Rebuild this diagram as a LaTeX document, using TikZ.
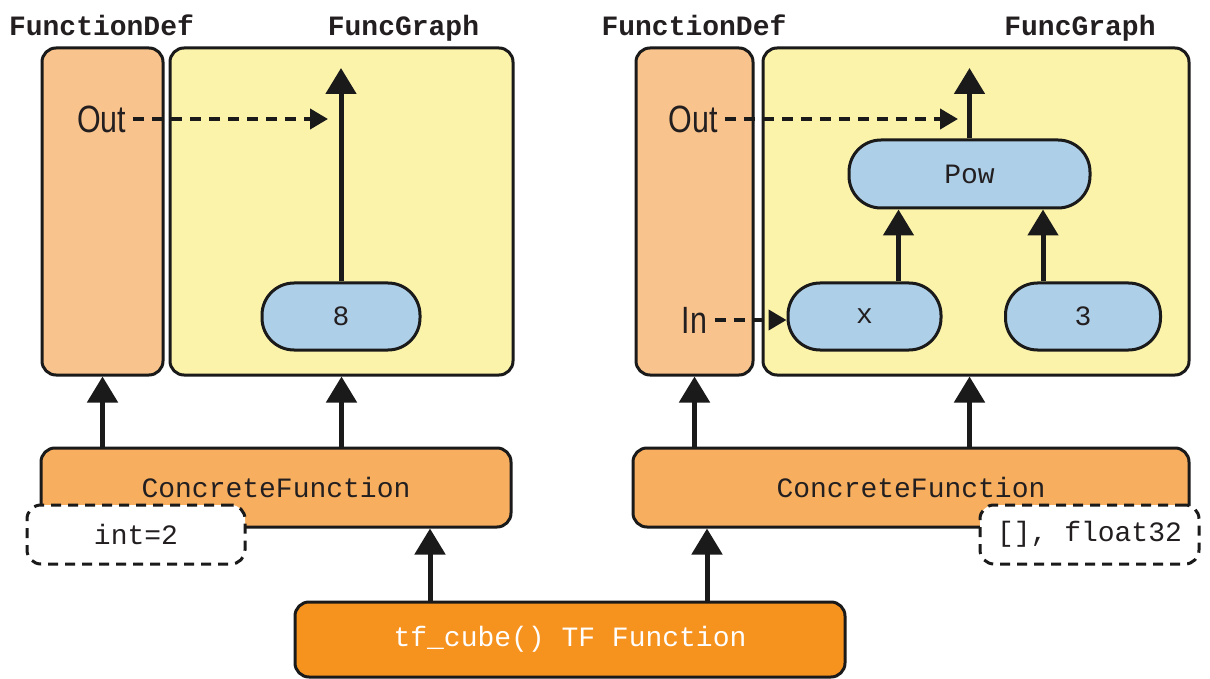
\documentclass[tikz,border=0pt]{standalone}
\usepackage{fontspec}
\usepackage{graphicx}
\setmainfont{Liberation Sans}
\setmonofont{Liberation Mono}
\usetikzlibrary{arrows.meta}
\definecolor{defC}{HTML}{F8C38C}
\definecolor{graphC}{HTML}{FCF3AB}
\definecolor{blueC}{HTML}{AECFE8}
\definecolor{cfC}{HTML}{F7AF5F}
\definecolor{tfC}{HTML}{F6921E}
\definecolor{lineC}{HTML}{1A1A1A}
\definecolor{txtC}{HTML}{231F20}
\newcommand\monofs{\ttfamily\fontsize{14}{16}\selectfont}
\newcommand\condtxt[1]{\scalebox{0.8}[1]{\fontsize{19}{20}\selectfont #1}}
\begin{document}
\begin{tikzpicture}[x=0.5pt,y=-0.5pt,
  box/.style={draw=lineC, line width=1.5pt, rounded corners=7pt, inner sep=0pt},
  pill/.style={box, fill=blueC, rounded corners=16pt, minimum height=33.5pt, font=\monofs, text=txtC},
  arr/.style={draw=lineC, line width=2.5pt, -{Triangle[length=13pt,width=15pt]}},
  darr/.style={draw=lineC, line width=2pt, dash pattern=on 5.5pt off 4pt, -{Triangle[length=9pt,width=10pt]}},
  dbox/.style={draw=lineC, line width=1.5pt, dash pattern=on 5pt off 3.5pt, fill=white, rounded corners=7pt, inner sep=0pt, font=\monofs, text=txtC},
  title/.style={anchor=base, font=\monofs\bfseries, text=txtC, inner sep=0pt},
  lbl/.style={text=txtC, inner sep=3.5pt}]
\useasboundingbox (0,0) rectangle (1210,679);
\fill[white] (0,0) rectangle (1210,679);

% titles
\node[title] (tDefL) at (101.5,36) {FunctionDef};
\node[title] (tGrL) at (403.5,36) {FuncGraph};
\node[title] (tDefR) at (694,36) {FunctionDef};
\node[title] (tGrR) at (1080,36) {FuncGraph};

% containers
\node[box, fill=defC, minimum width=60.5pt, minimum height=163.5pt] (colL) at (102.5,211.5) {};
\node[box, fill=graphC, minimum width=171.5pt, minimum height=163.5pt] (grL) at (341.5,211.5) {};
\node[box, fill=defC, minimum width=58.5pt, minimum height=163.5pt] (colR) at (694.5,211.5) {};
\node[box, fill=graphC, minimum width=213pt, minimum height=163.5pt] (grR) at (976,211.5) {};

% graph nodes
\node[pill, minimum width=79pt] (eight) at (341,316.5) {8};
\node[pill, minimum width=120.5pt, minimum height=34pt] (pow) at (969.5,174) {Pow};
\node[pill, minimum width=76.5pt] (xn) at (864.5,316.5) {x};
\node[pill, minimum width=77.5pt] (three) at (1083,316.5) {3};

% labels
\node[lbl] (outL) at (101.5,119) {\condtxt{Out}};
\node[lbl] (outR) at (693,119) {\condtxt{Out}};
\node[lbl] (inR) at (694.5,320) {\condtxt{In}};

\coordinate (topL) at (341,68);
\coordinate (topR) at (969.5,68);
\coordinate (dL) at (328,119);
\coordinate (dR) at (958,119);

\draw[arr] (eight.north) -- (topL);
\draw[arr] (pow.north) -- (topR);
\draw[darr] (outL.east) -- (dL);
\draw[darr] (outR.east) -- (dR);
\draw[darr] (inR.east) -- (inR.east -| xn.west);
\draw[arr] ([xshift=17pt]xn.north) -- ([xshift=17pt]xn.north |- pow.south);
\draw[arr] ([xshift=-20pt]three.north) -- ([xshift=-20pt]three.north |- pow.south);

% concrete functions
\node[box, fill=cfC, minimum width=235pt, minimum height=39.5pt, font=\monofs, text=txtC] (cfL) at (276,487.5) {ConcreteFunction};
\node[box, fill=cfC, minimum width=278pt, minimum height=39.5pt, font=\monofs, text=txtC] (cfR) at (911,487.5) {ConcreteFunction};
\node[dbox, minimum width=109pt, minimum height=29.5pt] (intb) at (136,534.5) {int=2};
\node[dbox, minimum width=109.5pt, minimum height=29.5pt] (fltb) at (1089.5,534.5) {[], float32};

\draw[arr] (cfL.north -| colL.south) -- (colL.south);
\draw[arr] (cfL.north -| grL.south) -- (grL.south);
\draw[arr] (cfR.north -| colR.south) -- (colR.south);
\draw[arr] (cfR.north -| pow.south) -- (grR.south -| pow.south);

% tf function
\node[box, fill=tfC, minimum width=275pt, minimum height=37.5pt, font=\monofs, text=white] (tf) at (570,639.5) {tf\_cube() TF Function};
\draw[arr] ([xshift=-70pt]tf.north) -- ([xshift=-70pt]tf.north |- cfL.south);
\draw[arr] ([xshift=68.5pt]tf.north) -- ([xshift=68.5pt]tf.north |- cfR.south);
\end{tikzpicture}
\end{document}
